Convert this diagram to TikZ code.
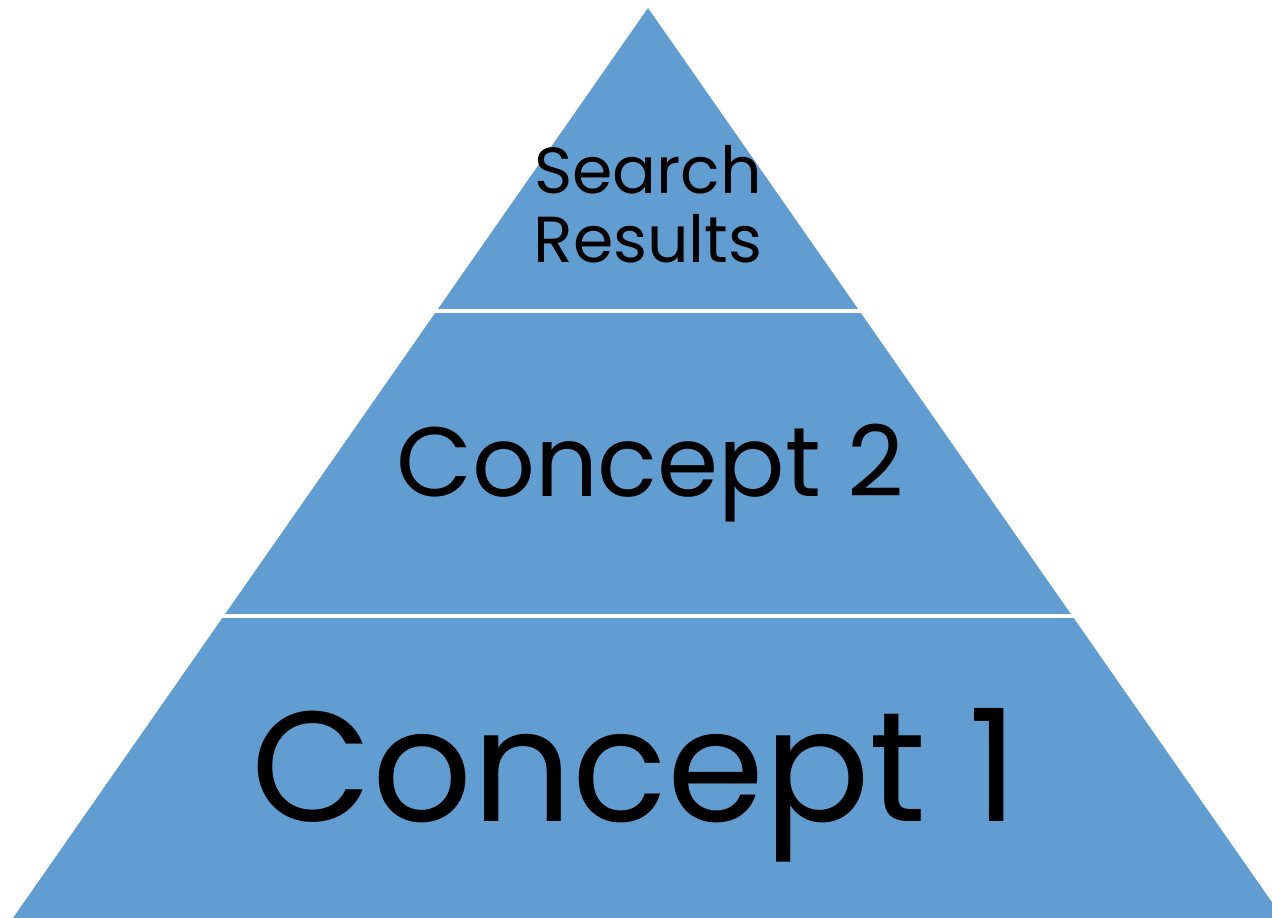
\documentclass[tikz,border=0pt]{standalone}
\usepackage{fontspec}
\setmainfont{Poppins}
\usepackage{tikz}
\usetikzlibrary{calc}
\definecolor{layerblue}{RGB}{98,157,209}

\begin{document}
\begin{tikzpicture}[gap/.style={white,line width=0.04cm},
  label/.style={anchor=base,inner sep=0pt,align=center,text=black}]
  \useasboundingbox (0,0) rectangle (12.72,9.18);
  \clip (0,0) rectangle (12.72,9.18);
  \coordinate (apex) at (6.48,9.10);
  \coordinate (bl) at (0.13,0);
  \coordinate (br) at (12.83,0);
  \fill[layerblue] (apex) -- (bl) -- (br) -- cycle;
  \draw[gap] (0,6.07) -- (12.72,6.07);
  \draw[gap] (0,3.02) -- (12.72,3.02);
  \node[label,font=\fontsize{18.5}{19.9}\selectfont] (top) at (6.48,6.55) {Search\\Results};
  \node[label,font=\fontsize{28}{30}\selectfont] (mid) at (6.50,4.21) {Concept 2};
  \node[label,font=\fontsize{44.5}{48}\selectfont] (low) at (6.35,0.96) {Concept 1};
\end{tikzpicture}
\end{document}
